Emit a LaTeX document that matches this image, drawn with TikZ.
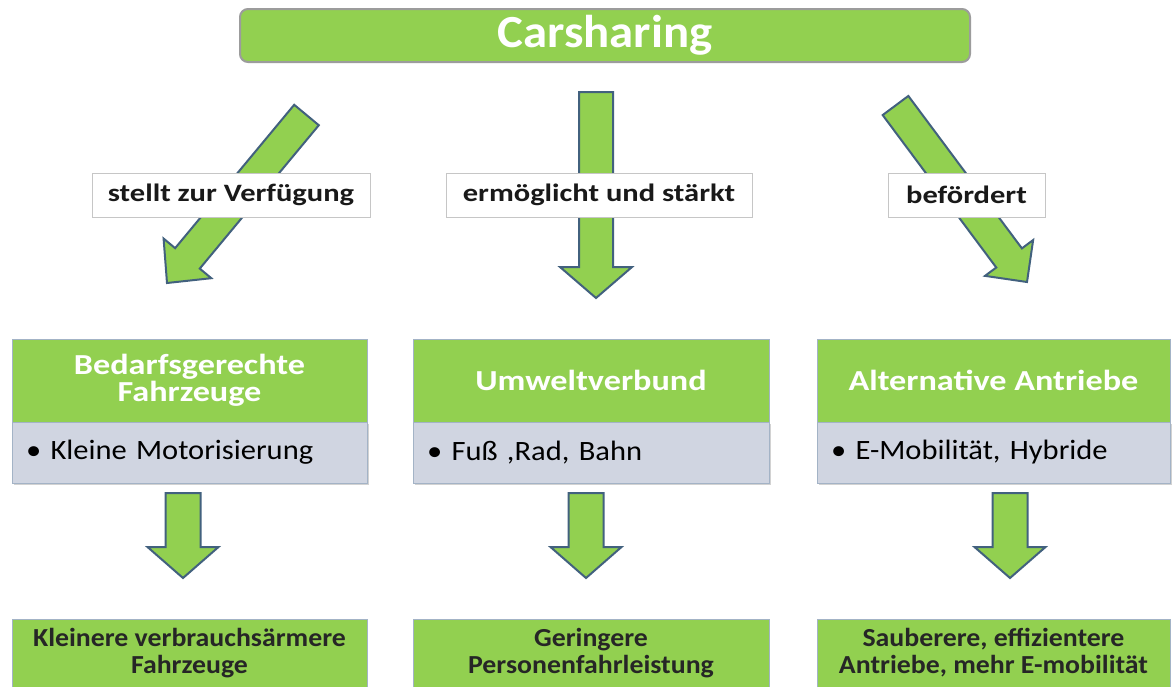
\documentclass[tikz,border=0pt]{standalone}
\usepackage{fontspec}
\setmainfont{Carlito}
\newfontfamily\fTop{Carlito}[FakeStretch=1.06]
\newfontfamily\fLbl{Carlito}[FakeStretch=1.22]
\newfontfamily\fHead{Carlito}[FakeStretch=1.18]
\newfontfamily\fBody{Carlito}[FakeStretch=1.09]
\newfontfamily\fRes{Carlito}[FakeStretch=1.07]
\usetikzlibrary{calc,shadows}
\definecolor{grn}{HTML}{92D050}
\definecolor{arrline}{HTML}{42617E}
\definecolor{bodyc}{HTML}{D0D5E1}
\definecolor{boxline}{HTML}{A3B3C6}
\definecolor{barline}{HTML}{9C9C9C}
\tikzset{
  fatarr/.style={fill=grn, draw=arrline, line width=2pt, line join=miter},
  topbar/.style={draw=barline, line width=2pt, fill=grn, rounded corners=8pt,
    minimum width=730pt, minimum height=53pt, inner sep=0pt,
    font=\fTop\fontsize{46}{50}\selectfont\bfseries, text=white},
  lbl/.style={draw=gray!45, fill=white, line width=0.8pt, minimum height=44pt, inner sep=0pt,
    font=\fLbl\fontsize{25}{28}\selectfont\bfseries, text=black!90},
  headbox/.style={fill=grn, draw=boxline, line width=0.8pt, minimum height=83pt, inner sep=0pt,
    text=white, font=\fHead\fontsize{29}{27}\selectfont\bfseries, align=center},
  bodybox/.style={fill=bodyc, draw=boxline, line width=0.8pt, minimum height=61pt,
    inner xsep=14pt, inner ysep=0pt, font=\fBody\fontsize{28}{31}\selectfont, align=left,
    drop shadow={opacity=0.35, shadow xshift=1.5pt, shadow yshift=-2pt}},
  resbox/.style={fill=grn, draw=boxline, line width=0.8pt, minimum height=68pt, inner sep=0pt,
    font=\fRes\fontsize{26}{27}\selectfont\bfseries, align=center, text=black!85}
}
\newcommand\fatarrow[5]{%
  \coordinate (hb) at ($(#2)!#5!(#1)$);
  \draw[fatarr] ($(#1)!#3!90:(#2)$) -- ($(hb)!#3!-90:(#1)$) -- ($(hb)!#4!-90:(#1)$)
    -- (#2) -- ($(hb)!#4!90:(#1)$) -- ($(hb)!#3!90:(#1)$) -- ($(#1)!#3!-90:(#2)$) -- cycle;
}
\begin{document}
\begin{tikzpicture}[x=1pt,y=-1pt]
\clip (0,0) rectangle (1172,686);
\fill[white] (0,0) rectangle (1172,686);

% top
\node[topbar] (top) at (605,35.5) {Carsharing};

% big arrows
\coordinate (s1) at (306.5,115); \coordinate (t1) at (167,283);
\coordinate (s2) at (596,92);    \coordinate (t2) at (596,298);
\coordinate (s3) at (895.5,105.5); \coordinate (t3) at (1027,282);
\fatarrow{s1}{t1}{16pt}{31pt}{32pt}
\fatarrow{s2}{t2}{17pt}{36pt}{31pt}
\fatarrow{s3}{t3}{16pt}{30pt}{30pt}

% labels
\node[lbl, minimum width=278pt] (l1) at (231,195) {stellt zur Verfügung};
\node[lbl, minimum width=306pt] (l2) at (599,195) {ermöglicht und stärkt};
\node[lbl, minimum width=157pt] (l3) at (966.5,195) {befördert};

% middle boxes
\node[headbox, minimum width=355pt] (h1) at (189.5,380.5) {Bedarfsgerechte\\Fahrzeuge};
\node[headbox, minimum width=356pt] (h2) at (591,380.5) {Umweltverbund};
\node[headbox, minimum width=353pt] (h3) at (993.5,380.5) {Alternative Antriebe};
\node[bodybox, minimum width=355pt, text width=327pt] (b1) at (189.5,452.5) {• Kleine Motorisierung};
\node[bodybox, minimum width=356pt, text width=328pt] (b2) at (591,452.5) {• Fuß ,Rad, Bahn};
\node[bodybox, minimum width=353pt, text width=325pt] (b3) at (993.5,452.5) {• E-Mobilität, Hybride};

% small arrows
\coordinate (u1) at (183,493); \coordinate (v1) at (183,578);
\coordinate (u2) at (586,493); \coordinate (v2) at (586,578);
\coordinate (u3) at (1010,493); \coordinate (v3) at (1010,578);
\fatarrow{u1}{v1}{17.5pt}{35.5pt}{31pt}
\fatarrow{u2}{v2}{17.5pt}{35.5pt}{31pt}
\fatarrow{u3}{v3}{17.5pt}{35.5pt}{31pt}

% result boxes
\node[resbox, minimum width=355pt] (r1) at (189.5,653) {Kleinere verbrauchsärmere\\Fahrzeuge};
\node[resbox, minimum width=356pt] (r2) at (591,653) {Geringere\\Personenfahrleistung};
\node[resbox, minimum width=353pt] (r3) at (993.5,653) {Sauberere, effizientere\\Antriebe, mehr E-mobilität};
\end{tikzpicture}
\end{document}
